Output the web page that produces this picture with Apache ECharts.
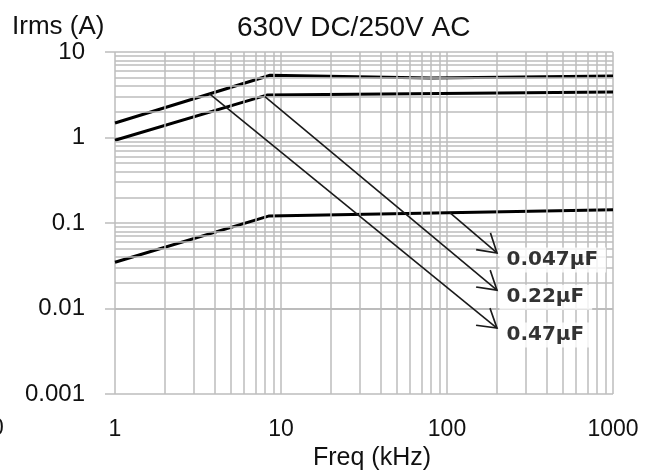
<!DOCTYPE html>
<html>
<head>
<meta charset="utf-8">
<script src="https://cdn.jsdelivr.net/npm/echarts@6/dist/echarts.min.js"></script>
<style>
  html, body { margin: 0; padding: 0; background: #fff; }
  #chart { width: 649px; height: 470px; }
</style>
</head>
<body>
<div id="chart"></div>
<script>
// Axis ticks
const xTickLabels = ['1', '10', '100', '1000'];
const yTickLabels = ['0.001', '0.01', '0.1', '1', '10'];
const xMinorLines = [2, 3, 4, 5, 6, 7, 8, 9, 20, 30, 40, 50, 60, 70, 80, 90, 200, 300, 400, 500, 600, 700, 800, 900];
const yMinorLines = [0.002, 0.003, 0.004, 0.005, 0.006, 0.007, 0.008, 0.009,
                     0.02, 0.03, 0.04, 0.05, 0.06, 0.07, 0.08, 0.09,
                     0.2, 0.3, 0.4, 0.5, 0.6, 0.7, 0.8, 0.9,
                     2, 3, 4, 5, 6, 7, 8, 9];

// Irms limit curves: [frequency kHz, current A]
const limit047 = [[1, 1.48], [8.6, 5.35], [80, 4.95], [1000, 5.25]];
const limit022 = [[1, 0.93], [8.3, 3.15], [1000, 3.4]];
const limit0047 = [[1, 0.0347], [8.5, 0.121], [1000, 0.143]];

// Falloff leaders running down to the capacitance tags
const slope047 = [[3.7, 3.25], [200, 0.0059]];
const slope022 = [[8.0, 3.0], [200, 0.0164]];
const slope0047 = [[104, 0.132], [200, 0.0446]];

const capNames = ['0.047µF', '0.22µF', '0.47µF'];
const capSlopes = [slope0047, slope022, slope047];

const FONT = 'Liberation Sans, Arial, sans-serif';
const GRID_COLOR = '#bdbdbd';
const ARROW_PATH = 'path://M0,0 L18,11 L0,22';
const ARROW_DEPTH = 18;
const ARROW_SPAN = 22;

const chart = echarts.init(document.getElementById('chart'), null, { renderer: 'canvas' });

function labelFor(value, labels) {
  const hit = labels.find(l => Math.abs(Math.log10(Number(l)) - Math.log10(value)) < 1e-6);
  return hit || '';
}

function limitSeries(id, pts) {
  return {
    id, type: 'line', data: pts, symbol: 'none', silent: true, z: 4,
    lineStyle: { color: '#000', width: 3 }
  };
}

function slopeSeries(id, pts, angle) {
  const last = pts.length - 1;
  const data = pts.map((p, i) => {
    if (i !== last) return { value: p };
    return {
      value: p,
      symbol: ARROW_PATH,
      symbolSize: [ARROW_DEPTH, ARROW_SPAN],
      symbolRotate: -angle * 180 / Math.PI,
      symbolOffset: [-ARROW_DEPTH / 2 * Math.cos(angle), -ARROW_DEPTH / 2 * Math.sin(angle)],
      itemStyle: { color: 'rgba(0,0,0,0)', borderColor: '#1a1a1a', borderWidth: 1.6 }
    };
  });
  return {
    id, type: 'line', data, symbol: 'none', showSymbol: true, silent: true, z: 5,
    lineStyle: { color: '#1a1a1a', width: 1.6 }
  };
}

function buildSeries(angles) {
  return [
    {
      id: 'minorGrid', type: 'line', data: [], silent: true, z: 1,
      markLine: {
        silent: true, symbol: 'none', animation: false,
        label: { show: false },
        lineStyle: { color: GRID_COLOR, width: 1.5, type: 'solid' },
        data: xMinorLines.map(v => ({ xAxis: v })).concat(yMinorLines.map(v => ({ yAxis: v })))
      }
    },
    limitSeries('limit047', limit047),
    limitSeries('limit022', limit022),
    limitSeries('limit0047', limit0047),
    slopeSeries('slope047', slope047, angles[2]),
    slopeSeries('slope022', slope022, angles[1]),
    slopeSeries('slope0047', slope0047, angles[0]),
    {
      id: 'capTags', type: 'scatter', silent: true, z: 8,
      symbol: 'circle', symbolSize: 1,
      itemStyle: { color: 'rgba(0,0,0,0)' },
      data: capSlopes.map(s => s[s.length - 1]),
      label: {
        show: true, position: 'right', distance: 2, offset: [0, 7],
        formatter: p => capNames[p.dataIndex],
        fontFamily: 'DejaVu Sans', fontWeight: 'bold', fontSize: 20, color: '#000',
        lineHeight: 23,
        backgroundColor: '#fff', padding: [1, 8, 1, 7]
      }
    }
  ];
}

const option = {
  animation: false,
  backgroundColor: '#fff',
  title: [
    {
      text: '630V DC/250V AC', left: 232, top: 9,
      textStyle: { fontFamily: FONT, fontSize: 28, fontWeight: 'normal', color: '#111' }
    },
    {
      text: 'Irms (A)', left: 7, top: 9,
      textStyle: { fontFamily: FONT, fontSize: 26, fontWeight: 'normal', color: '#111' }
    }
  ],
  graphic: [
    { type: 'text', x: -9, y: 417, silent: true,
      style: { text: '0', font: '23px ' + FONT, fill: '#111' } }
  ],
  grid: { left: 115, top: 52, right: 36, bottom: 76, containLabel: false, outerBoundsMode: 'none' },
  xAxis: {
    type: 'log', logBase: 10, min: 1, max: 1000,
    name: 'Freq (kHz)', nameLocation: 'middle', nameGap: 43,
    nameTextStyle: { fontFamily: FONT, fontSize: 25, color: '#111', padding: [0, 0, 0, 16] },
    axisLine: { show: false },
    axisTick: { show: false },
    axisLabel: {
      fontFamily: FONT, fontSize: 23, color: '#111', margin: 24,
      formatter: v => labelFor(v, xTickLabels)
    },
    splitLine: { show: true, lineStyle: { color: GRID_COLOR, width: 1.5 } },
    minorSplitLine: { show: false }
  },
  yAxis: {
    type: 'log', logBase: 10, min: 0.001, max: 10,
    axisLine: { show: false },
    axisTick: { show: true, length: 10, lineStyle: { color: GRID_COLOR, width: 1.5 } },
    axisLabel: {
      fontFamily: FONT, fontSize: 24, color: '#111', margin: 30,
      formatter: v => labelFor(v, yTickLabels)
    },
    splitLine: { show: true, lineStyle: { color: GRID_COLOR, width: 1.5 } }
  },
  series: buildSeries([0, 0, 0])
};

chart.setOption(option);

// Orient each arrowhead along its leader in screen space
const angles = capSlopes.map(pts => {
  const a = chart.convertToPixel({ gridIndex: 0 }, pts[0]);
  const b = chart.convertToPixel({ gridIndex: 0 }, pts[pts.length - 1]);
  return Math.atan2(b[1] - a[1], b[0] - a[0]);
});
chart.setOption({ series: buildSeries(angles) });
</script>
</body>
</html>
